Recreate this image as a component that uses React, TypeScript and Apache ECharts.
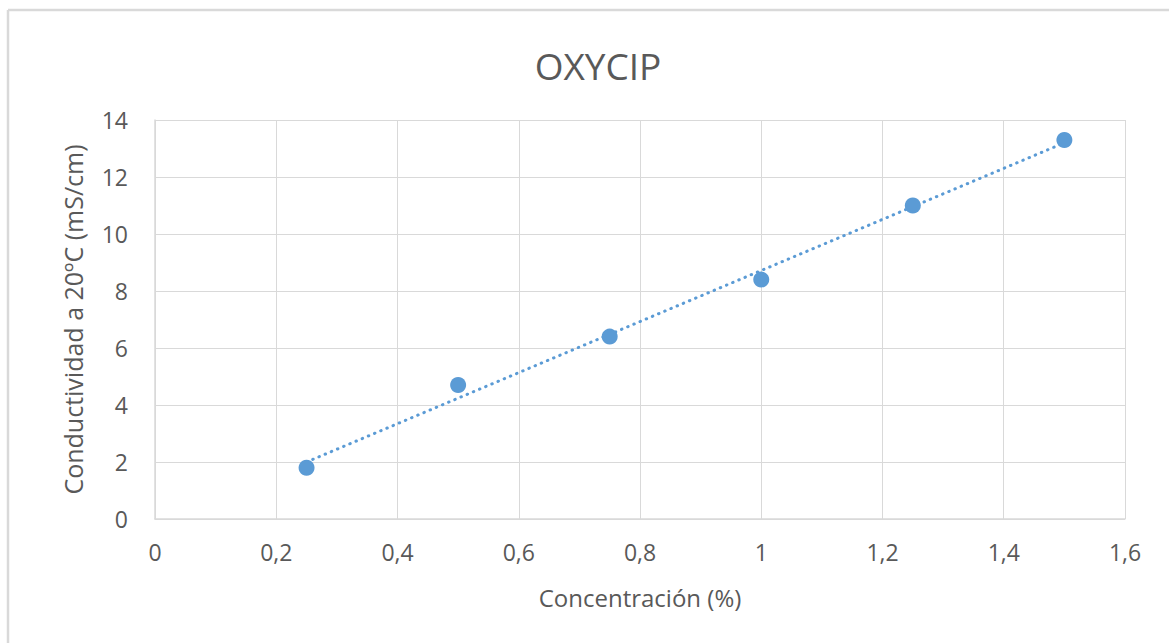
import React, { useEffect, useRef } from "react";
import * as echarts from "echarts";

const concentration = [0.25, 0.5, 0.75, 1.0, 1.25, 1.5];
const conductivity = [1.8, 4.7, 6.4, 8.4, 11.0, 13.3];
const xTicks = { min: 0, max: 1.6, interval: 0.2 };
const yTicks = { min: 0, max: 14, interval: 2 };

function linearFit(xs: number[], ys: number[]) {
  const n = xs.length;
  const mx = xs.reduce((a, b) => a + b, 0) / n;
  const my = ys.reduce((a, b) => a + b, 0) / n;
  let sxy = 0, sxx = 0;
  for (let i = 0; i < n; i++) {
    sxy += (xs[i] - mx) * (ys[i] - my);
    sxx += (xs[i] - mx) * (xs[i] - mx);
  }
  const slope = sxy / sxx;
  return { slope, intercept: my - slope * mx };
}

export default function App() {
  const ref = useRef<HTMLDivElement>(null);
  useEffect(() => {
    if (!ref.current) return;
    const chart = echarts.init(ref.current, null, { renderer: "svg" });
    const fit = linearFit(concentration, conductivity);
    const x0 = concentration[0];
    const x1 = concentration[concentration.length - 1];
    const trend = [
      [x0, fit.intercept + fit.slope * x0],
      [x1, fit.intercept + fit.slope * x1],
    ];
    const font = "'Open Sans', 'Noto Sans', sans-serif";
    const textColor = "#595959";
    chart.setOption({
      animation: false,
      backgroundColor: "#ffffff",
      textStyle: { fontFamily: font },
      title: {
        text: "OXYCIP",
        left: 593,
        top: 42,
        textAlign: "center",
        textStyle: { fontSize: 37, fontWeight: "normal", color: textColor, fontFamily: font },
      },
      graphic: [
        { type: "line", shape: { x1: 8, y1: 10, x2: 1169, y2: 10 }, style: { stroke: "#d9d9d9", lineWidth: 2.5 } },
        { type: "line", shape: { x1: 8, y1: 10, x2: 8, y2: 643 }, style: { stroke: "#d9d9d9", lineWidth: 2.5 } },
      ],
      grid: { left: 155, right: 44, top: 120, bottom: 124 },
      xAxis: {
        type: "value",
        min: xTicks.min,
        max: xTicks.max,
        interval: xTicks.interval,
        name: "Concentración (%)",
        nameLocation: "middle",
        nameGap: 66,
        nameTextStyle: { fontSize: 24, color: textColor, fontFamily: font },
        axisLine: { show: true, lineStyle: { color: "#d9d9d9", width: 1.5 } },
        axisTick: { show: false },
        axisLabel: {
          fontSize: 23,
          color: textColor,
          margin: 21,
          fontFamily: font,
          formatter: (v: number) => String(Math.round(v * 10) / 10).replace(".", ","),
        },
        splitLine: { show: true, lineStyle: { color: "#d9d9d9", width: 1 } },
      },
      yAxis: {
        type: "value",
        min: yTicks.min,
        max: yTicks.max,
        interval: yTicks.interval,
        name: "Conductividad a 20ºC (mS/cm)",
        nameLocation: "middle",
        nameGap: 70,
        nameRotate: 90,
        nameTextStyle: { fontSize: 25, color: textColor, fontFamily: font },
        axisLine: { show: true, lineStyle: { color: "#d9d9d9", width: 1.5 } },
        axisTick: { show: false },
        axisLabel: { fontSize: 23, color: textColor, margin: 27, fontFamily: font },
        splitLine: { show: true, lineStyle: { color: "#d9d9d9", width: 1 } },
      },
      series: [
        {
          type: "line",
          data: trend,
          showSymbol: false,
          symbol: "none",
          lineStyle: { color: "#5b9bd5", width: 3, type: [0.5, 6.2], cap: "round" },
          z: 2,
          silent: true,
        },
        {
          type: "scatter",
          data: concentration.map((x, i) => [x, conductivity[i]]),
          symbol: "circle",
          symbolSize: 16,
          itemStyle: { color: "#5b9bd5", opacity: 1 },
          z: 3,
        },
      ],
    });
    return () => chart.dispose();
  }, []);
  return (
    <div
      ref={ref}
      style={{ position: "absolute", left: 0, top: 0, width: 1169, height: 643 }}
    />
  );
}
